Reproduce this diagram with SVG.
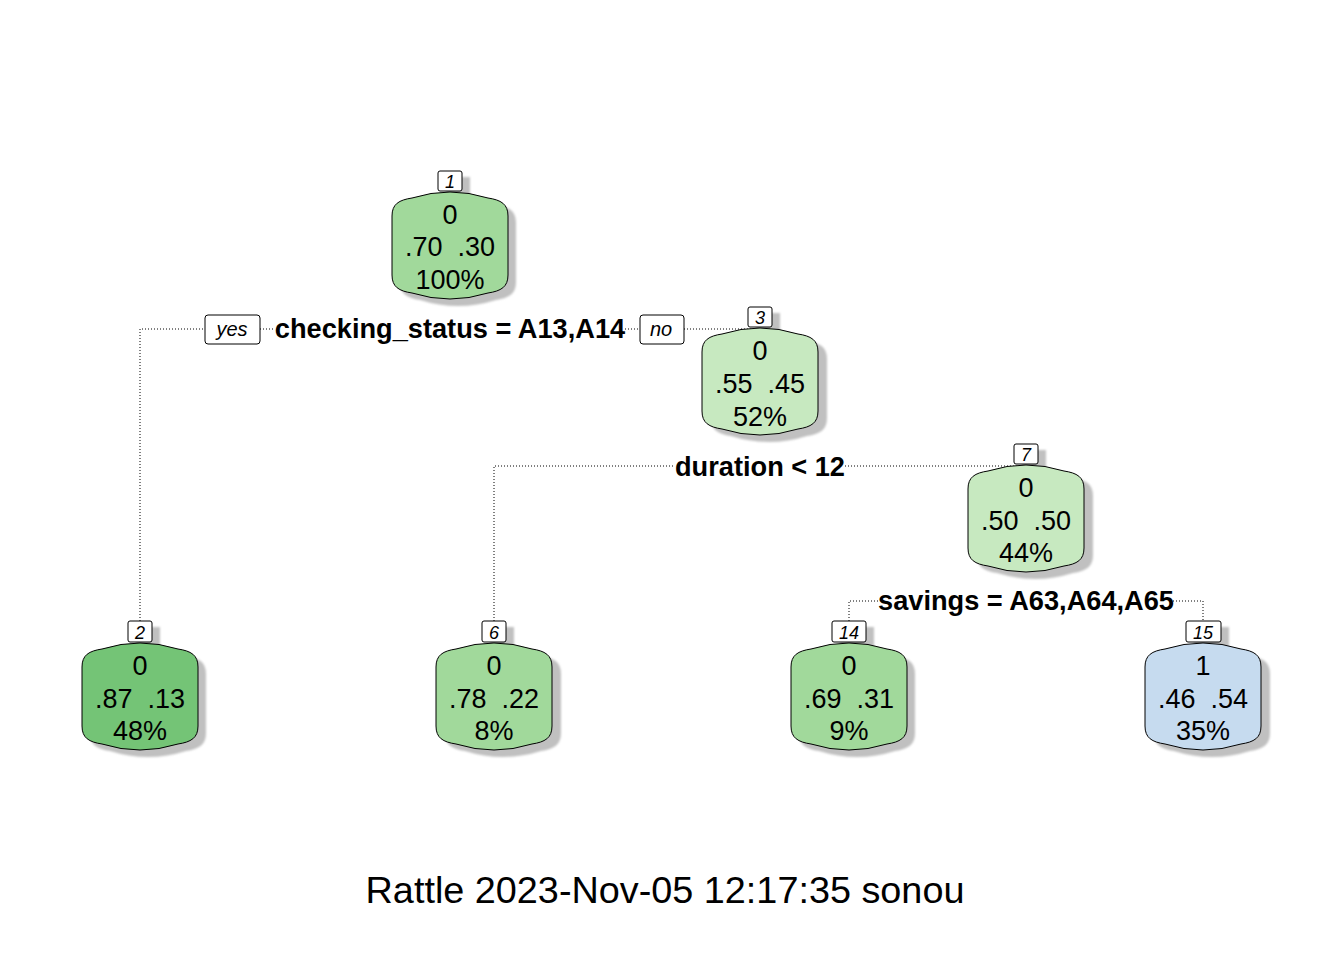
<svg xmlns="http://www.w3.org/2000/svg" xmlns:xlink="http://www.w3.org/1999/xlink" width="1344" height="960" viewBox="0 0 1344 960">
<style>
.bg{fill:#ffffff}
.conn{fill:none;stroke:#000;stroke-width:1;stroke-dasharray:1 2}
.node{stroke:#000;stroke-width:1}
.shadow{fill:#c0c0c0;stroke:none;filter:url(#soft)}
.lbl{fill:#fff;stroke:#000;stroke-width:1}
.num{font-family:"Liberation Sans",Arial,sans-serif;font-size:18px;font-style:italic;text-anchor:middle;fill:#000}
.t{font-family:"Liberation Sans",Arial,sans-serif;font-size:27px;text-anchor:middle;fill:#000;white-space:pre}
.split{font-family:"Liberation Sans",Arial,sans-serif;font-size:27.2px;font-weight:bold;text-anchor:middle;fill:#000}
.yn{font-family:"Liberation Sans",Arial,sans-serif;font-size:20px;font-style:italic;text-anchor:middle;fill:#000}
.foot{font-family:"Liberation Sans",Arial,sans-serif;font-size:37.8px;text-anchor:middle;fill:#000}
.g1{fill:#a1d99b}.g2{fill:#74c476}.g3{fill:#c7e9c0}.b1{fill:#c6dbef}
</style>
<defs>
<filter id="soft" x="-10%" y="-10%" width="120%" height="120%"><feGaussianBlur stdDeviation="1"/></filter>
<path id="bub" d="M0,24 C0,12 7,8 20,6 Q58,-6 96,6 C109,8 116,12 116,24 L116,83 C116,95 109,99 96,101 Q58,113 20,101 C7,99 0,95 0,83 Z"/>
</defs>
<rect class="bg" x="0" y="0" width="1344" height="960"/>
<g id="connectors">
<path class="conn" d="M140,621 V329 H205"/>
<path class="conn" d="M260,329 H275"/>
<path class="conn" d="M625,329 H640"/>
<path class="conn" d="M684,329 H760"/>
<path class="conn" d="M494,621 V466 H674"/>
<path class="conn" d="M845,466 H1026"/>
<path class="conn" d="M849,621 V601 H878"/>
<path class="conn" d="M1173,601 H1203 V621"/>
</g>
<g id="split-labels">
<rect class="lbl" x="205" y="315" width="55" height="29" rx="3"/>
<text class="yn" x="232" y="336">yes</text>
<text class="split" x="450" y="338">checking_status = A13,A14</text>
<rect class="lbl" x="640" y="315" width="44" height="29" rx="3"/>
<text class="yn" x="661" y="336">no</text>
<text class="split" x="760" y="476">duration &lt; 12</text>
<text class="split" x="1026" y="610">savings = A63,A64,A65</text>
</g>
<g id="node1">
<use href="#bub" class="shadow" transform="translate(400,199)"/>
<rect class="shadow" x="446" y="177" width="24" height="20"/>
<use href="#bub" class="node g1" transform="translate(392,192)"/>
<rect class="lbl" x="438" y="171" width="24" height="20" rx="2"/>
<text class="num" x="450" y="188">1</text>
<text class="t" x="450" y="224">0</text>
<text class="t" x="450" y="256">.70  .30</text>
<text class="t" x="450" y="289">100%</text>
</g>
<g id="node3">
<use href="#bub" class="shadow" transform="translate(711,335)"/>
<rect class="shadow" x="756" y="313" width="24" height="20"/>
<use href="#bub" class="node g3" transform="translate(702,328)"/>
<rect class="lbl" x="748" y="307" width="24" height="20" rx="2"/>
<text class="num" x="760" y="324">3</text>
<text class="t" x="760" y="360">0</text>
<text class="t" x="760" y="393">.55  .45</text>
<text class="t" x="760" y="426">52%</text>
</g>
<g id="node7">
<use href="#bub" class="shadow" transform="translate(977,472)"/>
<rect class="shadow" x="1022" y="450" width="24" height="20"/>
<use href="#bub" class="node g3" transform="translate(968,465)"/>
<rect class="lbl" x="1014" y="444" width="24" height="20" rx="2"/>
<text class="num" x="1026" y="461">7</text>
<text class="t" x="1026" y="497">0</text>
<text class="t" x="1026" y="530">.50  .50</text>
<text class="t" x="1026" y="562">44%</text>
</g>
<g id="node2">
<use href="#bub" class="shadow" transform="translate(90,650)"/>
<rect class="shadow" x="136" y="627" width="24" height="20"/>
<use href="#bub" class="node g2" transform="translate(82,643)"/>
<rect class="lbl" x="128" y="621" width="24" height="21" rx="2"/>
<text class="num" x="140" y="639">2</text>
<text class="t" x="140" y="675">0</text>
<text class="t" x="140" y="708">.87  .13</text>
<text class="t" x="140" y="740">48%</text>
</g>
<g id="node6">
<use href="#bub" class="shadow" transform="translate(445,650)"/>
<rect class="shadow" x="490" y="627" width="24" height="20"/>
<use href="#bub" class="node g1" transform="translate(436,643)"/>
<rect class="lbl" x="482" y="621" width="24" height="21" rx="2"/>
<text class="num" x="494" y="639">6</text>
<text class="t" x="494" y="675">0</text>
<text class="t" x="494" y="708">.78  .22</text>
<text class="t" x="494" y="740">8%</text>
</g>
<g id="node14">
<use href="#bub" class="shadow" transform="translate(799,650)"/>
<rect class="shadow" x="840" y="627" width="34" height="20"/>
<use href="#bub" class="node g1" transform="translate(791,643)"/>
<rect class="lbl" x="832" y="621" width="34" height="21" rx="2"/>
<text class="num" x="849" y="639">14</text>
<text class="t" x="849" y="675">0</text>
<text class="t" x="849" y="708">.69  .31</text>
<text class="t" x="849" y="740">9%</text>
</g>
<g id="node15">
<use href="#bub" class="shadow" transform="translate(1154,650)"/>
<rect class="shadow" x="1194" y="627" width="35" height="20"/>
<use href="#bub" class="node b1" transform="translate(1145,643)"/>
<rect class="lbl" x="1186" y="621" width="35" height="21" rx="2"/>
<text class="num" x="1203" y="639">15</text>
<text class="t" x="1203" y="675">1</text>
<text class="t" x="1203" y="708">.46  .54</text>
<text class="t" x="1203" y="740">35%</text>
</g>
<text class="foot" x="665" y="903">Rattle 2023-Nov-05 12:17:35 sonou</text>
</svg>
